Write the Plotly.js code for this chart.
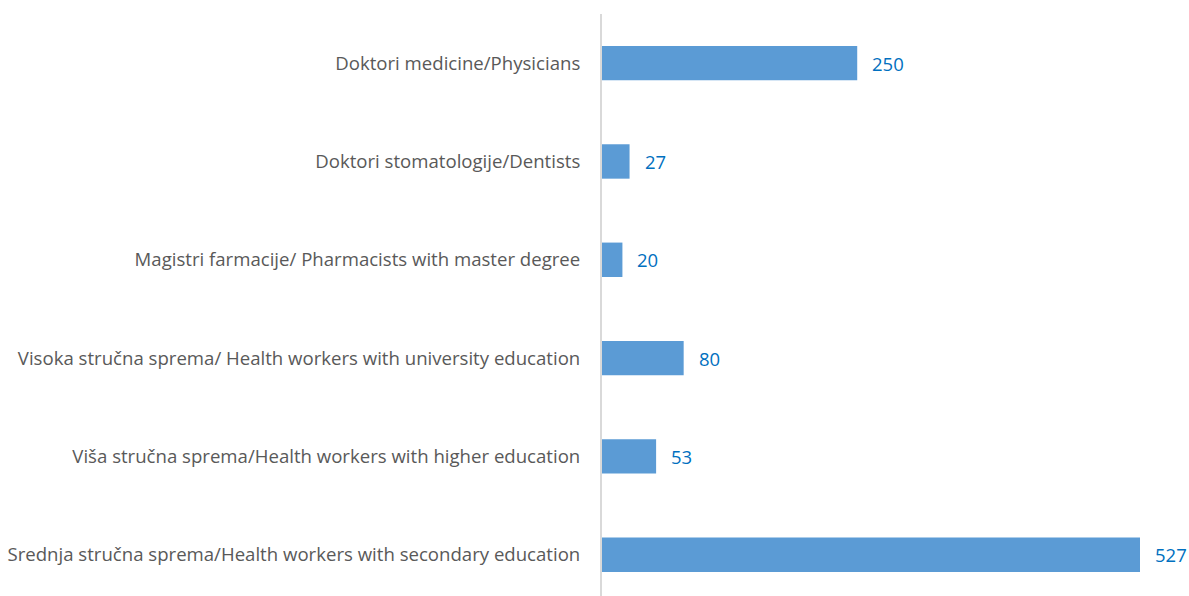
<!DOCTYPE html>
<html><head><meta charset="utf-8">
<script src="https://cdn.plot.ly/plotly-3.0.1.min.js"></script>
<style>html,body{margin:0;padding:0;background:#fff}#chart{width:1189px;height:596px}</style>
</head><body><div id="chart"></div>
<script>
const categories = [
  "Doktori medicine/Physicians",
  "Doktori stomatologije/Dentists",
  "Magistri farmacije/ Pharmacists with master degree",
  "Visoka stručna sprema/ Health workers with university education",
  "Viša stručna sprema/Health workers with higher education",
  "Srednja stručna sprema/Health workers with secondary education"
];
const values = [250, 27, 20, 80, 53, 527];

const trace = {
  type: 'bar', orientation: 'h',
  x: values, y: categories,
  marker: {color: '#5B9BD5'},
  width: 0.35,
  hoverinfo: 'none'
};
const annotations = values.map((v, i) => ({
  x: v, y: categories[i], xref: 'x', yref: 'y',
  text: String(v), showarrow: false, xanchor: 'left', xshift: 13,
  font: {family: 'Open Sans, sans-serif', size: 18.5, color: '#0070C0'}
}));
const layout = {
  width: 1189, height: 596,
  margin: {l: 602, r: 0, t: 14, b: 0},
  paper_bgcolor: '#fff', plot_bgcolor: '#fff',
  showlegend: false,
  xaxis: {range: [0, 575], showgrid: false, zeroline: false, showticklabels: false, ticks: ''},
  yaxis: {
    type: 'category', range: [5.42, -0.5],
    showline: true, linecolor: '#D9D9D9', linewidth: 2,
    showgrid: false, zeroline: false, ticks: '',
    ticklabelstandoff: 16,
    tickfont: {family: 'Open Sans, sans-serif', size: 18.6, color: '#595959'}
  },
  annotations: annotations
};
Plotly.newPlot('chart', [trace], layout, {displayModeBar: false, staticPlot: true});
</script></body></html>
